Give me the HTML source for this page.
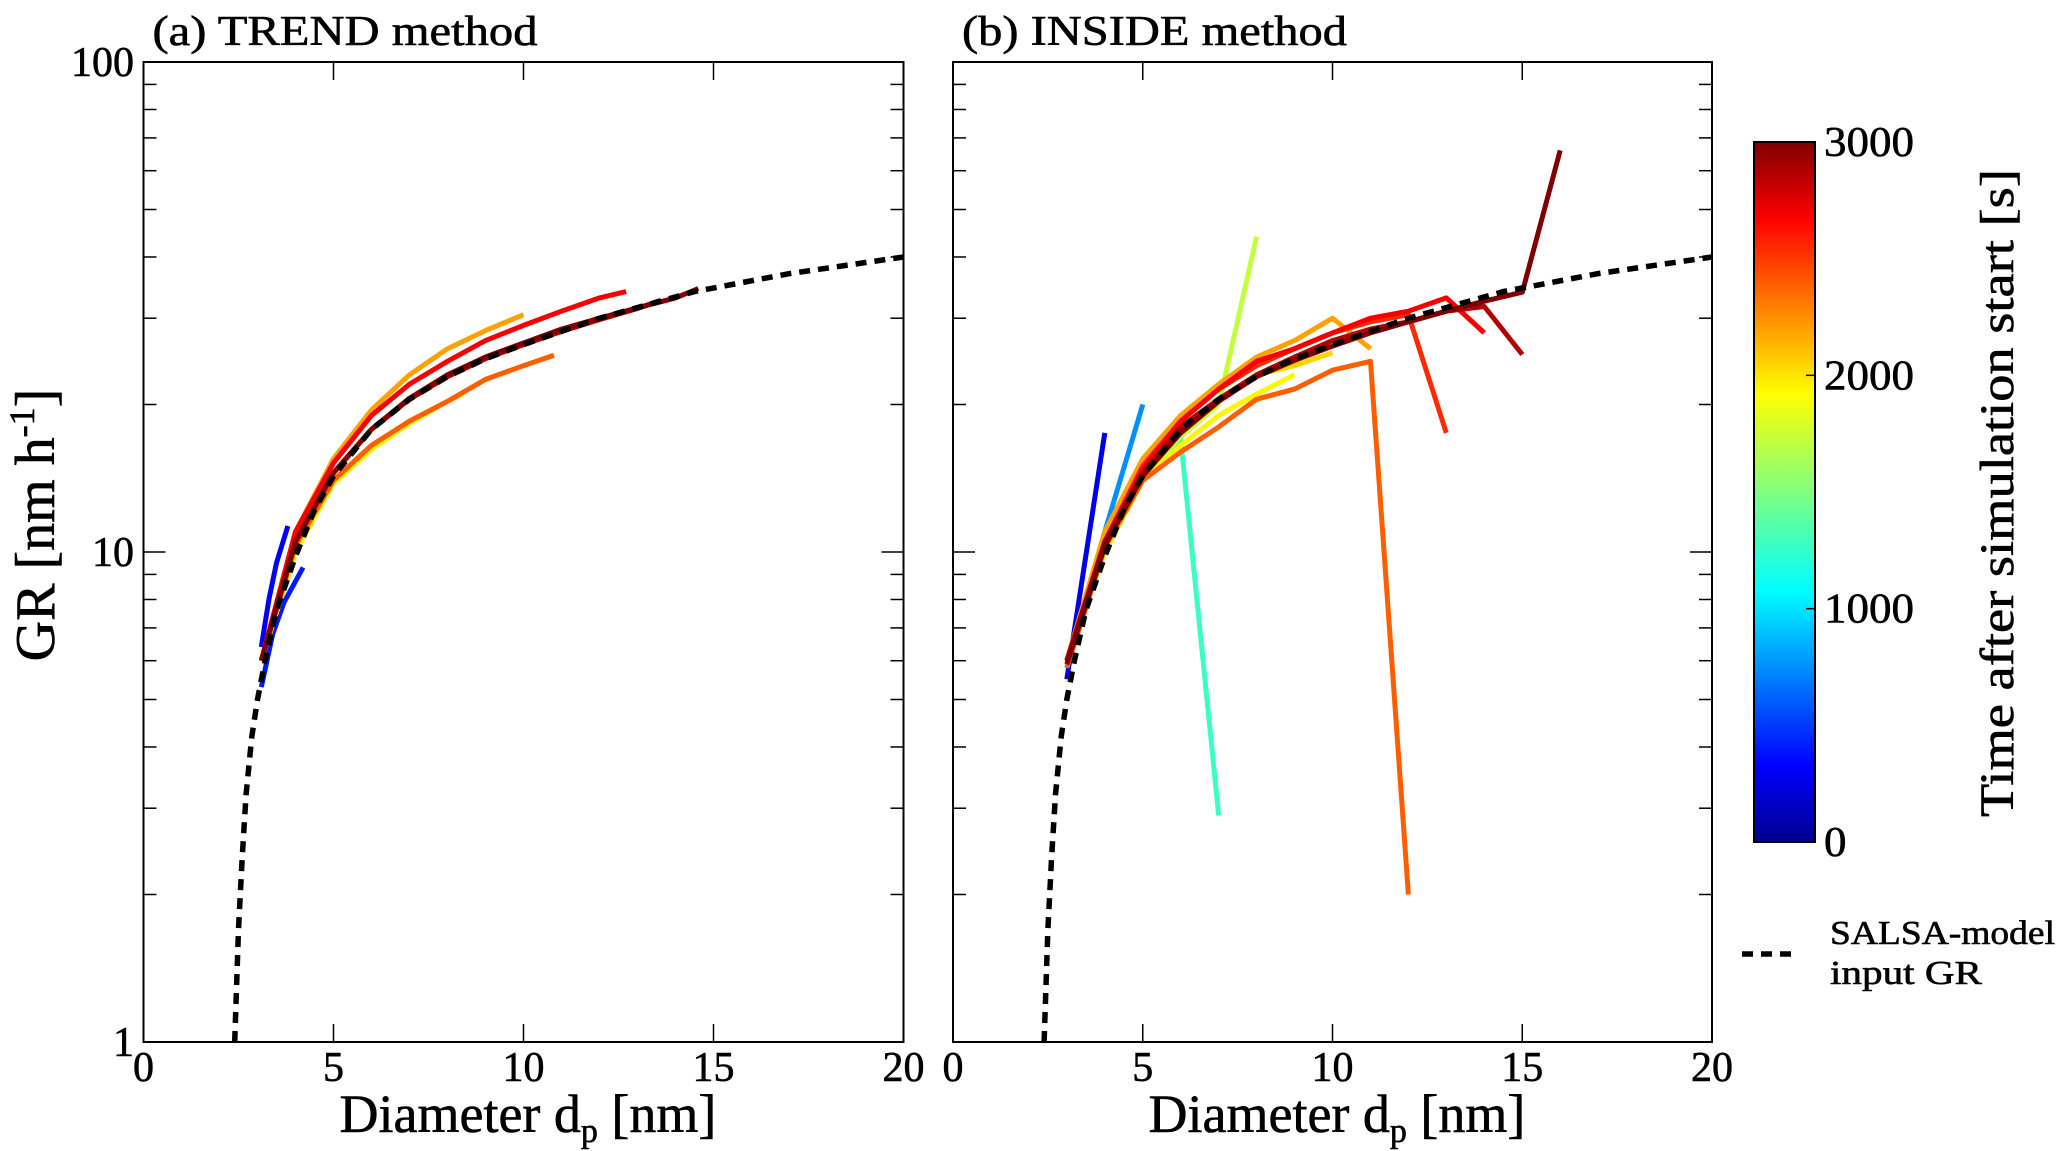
<!DOCTYPE html>
<html><head><meta charset="utf-8"><style>
body{margin:0;background:#fff;}
svg{display:block;font-family:"Liberation Serif",serif;}
</style></head><body>
<svg id="chart" width="2067" height="1151" viewBox="0 0 2067 1151" xmlns="http://www.w3.org/2000/svg">
<defs>
<linearGradient id="jet" x1="0" y1="1" x2="0" y2="0">
<stop offset="0" stop-color="#00008f"/><stop offset="0.11" stop-color="#0000ff"/>
<stop offset="0.36" stop-color="#00ffff"/><stop offset="0.5" stop-color="#7fff7f"/>
<stop offset="0.64" stop-color="#ffff00"/><stop offset="0.89" stop-color="#ff0000"/>
<stop offset="1" stop-color="#800000"/>
</linearGradient>
</defs>
<g id="layer"></g>
</svg>
<script>
// model curve
const modelD = [2.4,2.5,2.6,2.7,2.85,3.0,3.2,3.5,4,4.5,5,6,7,8,9,10,12,14.5,17,20];
const modelGR = [1,1.7,2.4,3.2,4.2,5.0,6.0,7.6,9.8,12.2,14.3,17.8,20.5,22.8,24.8,26.5,30,34,37,40];
// (a) TREND series
const trendTimes = [350,450,1900,2350,2150,2650,2850,3000];
const trendD = [
 [3.1,3.3,3.5,3.8],
 [3.1,3.4,3.7,4.2],
 [3.1,4,5,6,7,8,8.4],
 [3.1,4,5,6,7,8,9,10,10.8],
 [3.1,4,5,6,7,8,9,10],
 [3.1,4,5,6,7,8,9,10,11,12,12.7],
 [3.1,4,5,6,7,8,9,10,11,12,13,13.6],
 [3.1,4,5,6,7,8,9,10,11,12,13,14,14.6]
];
const trendGR = [
 [6.4,8.0,9.5,11.3],
 [5.3,6.8,7.9,9.3],
 [6,10,13.8,16.2,18.3,20.3,21],
 [6,10.3,14,16.5,18.5,20.3,22.5,24,25.2],
 [6,11,15.5,19.5,23,26,28.3,30.5],
 [6,11,15.2,19,22,24.5,27,29,31,33,34],
 [6,10.5,14.5,17.8,20.5,22.8,24.8,26.5,28.2,29.8,31.4,32.6],
 [6,10.5,14.5,17.8,20.6,23,25,26.7,28.5,30,31.5,33,34.5]
];
// (b) INSIDE series
const insideTimes = [300,800,1300,1700,1900,2000,2150,2350,2500,2650,2850,3000];
const insideD = [
 [3,4],[3,4,5],[3,4,5,6,7],[3,4,5,6,7,8],[3,4,5,6,7,8,9],[3,4,5,6,7,8,9,10],
 [3,4,5,6,7,8,9,10,11],[3,4,5,6,7,8,9,10,11,12],[3,4,5,6,7,8,9,10,11,12,13],
 [3,4,5,6,7,8,9,10,11,12,13,14],[3,4,5,6,7,8,9,10,11,12,13,14,15],
 [3,4,5,6,7,8,9,10,11,12,13,14,15,16]
];
const insideGR = [
 [5.5,17.5],[5.8,11,20],[6,10.5,14.5,17,2.9],[6,10.5,14.2,17.2,20,44],
 [6,10,14,16.5,19,21,23],[6,10.3,14.5,17.5,20.5,23,24,25.5],
 [6,11,15.5,19,22,25,27,30,26],[5.8,10.2,14,16,18,20.5,21.5,23.5,24.5,2],
 [6,10.5,15,18.5,21.5,24,26,28,29.5,30.5,17.5],
 [6,10.5,14.8,18.5,21.5,24.5,26,28,30,31,33,28],
 [6,10.5,14.5,18,20.5,23,25,27,28.5,29.5,31,31.7,25.3],
 [5.9,10.3,14.3,17.5,20.3,22.8,24.6,26.3,28,29.5,31,32.5,33.9,66]
];
const xTicks = [0,5,10,15,20];
const yTicks = [1,10,100];
const cbTicks = [0,1000,2000,3000];

const NS="http://www.w3.org/2000/svg";
const root=document.getElementById('layer');
function el(tag,attrs,parent,text){const e=document.createElementNS(NS,tag);for(const k in attrs)e.setAttribute(k,attrs[k]);if(text!==undefined)e.textContent=text;(parent||root).appendChild(e);return e;}
function jet(v){v=Math.max(0,Math.min(1,v));
 const r=Math.max(0,Math.min(1,1.5-Math.abs(4*v-3))),g=Math.max(0,Math.min(1,1.5-Math.abs(4*v-2))),b=Math.max(0,Math.min(1,1.5-Math.abs(4*v-1)));
 return `rgb(${Math.round(r*255)},${Math.round(g*255)},${Math.round(b*255)})`;}
const yTop=62,yBot=1042;
function yS(v){return yBot-(Math.log10(v))/2*(yBot-yTop);}
const TA={'lengthAdjust':'spacingAndGlyphs','stroke':'#000','stroke-width':0.6};

function panel(x0,x1,title,Ds,GRs,times,name){
 const g=el('g',{});
 
 
 const xS=v=>x0+v/20*(x1-x0);
 for(let i=0;i<Ds.length;i++){
  const pts=Ds[i].map((d,j)=>xS(d).toFixed(1)+','+yS(GRs[i][j]).toFixed(1)).join(' ');
  const pl=el('polyline',{points:pts,fill:'none',stroke:jet(times[i]/3000),'stroke-width':5,'stroke-linejoin':'round'},g);
  
  
 }
 const mp=el('polyline',{points:modelD.map((d,j)=>xS(d).toFixed(1)+','+yS(modelGR[j]).toFixed(1)).join(' '),fill:'none',stroke:'#000','stroke-width':5.5,'stroke-dasharray':'11 8'},g);
 
 
 const fr=el('rect',{x:x0,y:yTop,width:x1-x0,height:yBot-yTop,fill:'none',stroke:'#000','stroke-width':2},g);
 
 
 xTicks.forEach(t=>{const x=xS(t);
  el('line',{x1:x,x2:x,y1:yBot,y2:yBot-18,stroke:'#000','stroke-width':1.5},g);
  el('line',{x1:x,x2:x,y1:yTop,y2:yTop+18,stroke:'#000','stroke-width':1.5},g);
  const tl=el('text',Object.assign({x:x,y:1081,'font-size':42,'text-anchor':'middle',textLength:String(t).length*21},TA),g,String(t));
  
  
 });
 for(let dec=0;dec<2;dec++)for(let m=1;m<=9;m++){const v=m*Math.pow(10,dec);const y=yS(v);const L=m===1?22:13;
  el('line',{x1:x0,x2:x0+L,y1:y,y2:y,stroke:'#000','stroke-width':1.5},g);
  el('line',{x1:x1,x2:x1-L,y1:y,y2:y,stroke:'#000','stroke-width':1.5},g);}
 const at=el('text',Object.assign({x:x0+9,y:45,'font-size':42,textLength:385},TA),g,title);
 
 
 const xl=el('text',Object.assign({x:(x0+x1)/2-184,y:1132,'font-size':54},TA),g);
 
 
 el('tspan',{},xl,'Diameter d');
 el('tspan',{'font-size':34,dy:10},xl,'p');
 el('tspan',{dy:-10},xl,' [nm]');
}
panel(143.5,903.5,'(a) TREND method',trendD,trendGR,trendTimes,'panel-a-trend');
panel(953,1712,'(b) INSIDE method',insideD,insideGR,insideTimes,'panel-b-inside');
yTicks.forEach(t=>{const lab=el('text',Object.assign({x:134,y:yS(t)+14,'font-size':42,'text-anchor':'end',textLength:String(t).length*21},TA),root,String(t));
 
 });
const yl=el('text',Object.assign({transform:'translate(54,525) rotate(-90)','font-size':56,'text-anchor':'middle'},TA));


el('tspan',{},yl,'GR [nm  h');
el('tspan',{'font-size':36,dy:-20},yl,'-1');
el('tspan',{dy:20},yl,']');
const cb=el('rect',{x:1754,y:142,width:61,height:700,fill:'url(#jet)',stroke:'#000','stroke-width':2});


cbTicks.forEach(t=>{const y=842-t/3000*700;
 el('line',{x1:1815,x2:1806,y1:y,y2:y,stroke:'#000','stroke-width':1.5});
 const lab=el('text',Object.assign({x:1824,y:y+14,'font-size':42,textLength:String(t).length*22.5},TA),root,String(t));
 
 });
const cbt=el('text',Object.assign({transform:'translate(2013,493) rotate(-90)','font-size':48,'text-anchor':'middle',textLength:648},TA),root,'Time after simulation start [s]');


const lg=el('line',{x1:1742,x2:1794,y1:954,y2:954,stroke:'#000','stroke-width':5.5,'stroke-dasharray':'11 8'});


const lt1=el('text',Object.assign({x:1830,y:944,'font-size':34,textLength:225},TA),root,'SALSA-model');


const lt2=el('text',Object.assign({x:1830,y:984,'font-size':34,textLength:152},TA),root,'input GR');


</script>
</body></html>
